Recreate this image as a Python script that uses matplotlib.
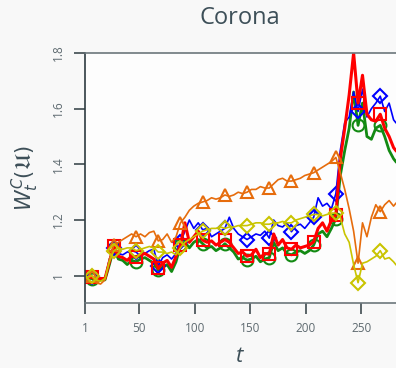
import matplotlib
matplotlib.use("Agg")
import matplotlib.pyplot as plt
import numpy as np

# time grid (markers every 20 steps from t=7)
t = [1] + list(range(3, 280, 4)) + [281]
marker_t = list(range(7, 281, 20))

orange = [1.00, 0.99, 1.00, 0.975, 0.97, 0.985, 1.06, 1.11, 1.12, 1.13, 1.14, 1.15,
          1.14, 1.15, 1.14, 1.155, 1.16, 1.125, 1.13, 1.15, 1.12, 1.14, 1.19, 1.21,
          1.235, 1.25, 1.26, 1.265, 1.27, 1.28, 1.275, 1.28, 1.29, 1.285, 1.29, 1.30,
          1.295, 1.30, 1.31, 1.31, 1.32, 1.315, 1.315, 1.33, 1.345, 1.35, 1.34, 1.34,
          1.345, 1.35, 1.36, 1.365, 1.37, 1.38, 1.39, 1.40, 1.41, 1.425, 1.37, 1.31,
          1.24, 1.16, 1.045, 1.19, 1.14, 1.21, 1.255, 1.23, 1.255, 1.27, 1.25, 1.26]

yellow = [1.00, 0.995, 1.00, 0.985, 0.98, 0.99, 1.05, 1.09, 1.10, 1.095, 1.10, 1.10,
          1.09, 1.095, 1.10, 1.105, 1.10, 1.085, 1.085, 1.08, 1.085, 1.075, 1.10, 1.12,
          1.13, 1.14, 1.15, 1.16, 1.165, 1.17, 1.17, 1.175, 1.17, 1.175, 1.175, 1.18,
          1.18, 1.18, 1.185, 1.19, 1.19, 1.185, 1.185, 1.19, 1.19, 1.195, 1.19, 1.19,
          1.20, 1.205, 1.21, 1.215, 1.22, 1.22, 1.215, 1.22, 1.225, 1.225, 1.21, 1.15,
          1.12, 1.04, 0.975, 1.045, 1.05, 1.06, 1.07, 1.09, 1.06, 1.065, 1.05, 1.04]

blue = [1.00, 0.995, 0.995, 0.985, 0.99, 0.99, 1.06, 1.10, 1.08, 1.075, 1.085, 1.09,
        1.085, 1.07, 1.08, 1.09, 1.095, 1.035, 1.065, 1.075, 1.06, 1.08, 1.12, 1.16,
        1.20, 1.17, 1.19, 1.165, 1.17, 1.14, 1.15, 1.16, 1.17, 1.21, 1.17, 1.15,
        1.14, 1.13, 1.14, 1.15, 1.145, 1.16, 1.135, 1.20, 1.18, 1.175, 1.19, 1.158,
        1.18, 1.185, 1.17, 1.19, 1.21, 1.28, 1.25, 1.26, 1.24, 1.295, 1.45, 1.55,
        1.57, 1.66, 1.59, 1.67, 1.57, 1.60, 1.62, 1.645, 1.59, 1.62, 1.56, 1.55]

green = [0.995, 0.99, 0.99, 0.98, 0.985, 0.985, 1.04, 1.10, 1.06, 1.055, 1.04, 1.055,
         1.05, 1.06, 1.065, 1.055, 1.045, 1.02, 1.03, 1.04, 1.015, 1.05, 1.11, 1.12,
         1.10, 1.12, 1.13, 1.115, 1.10, 1.105, 1.09, 1.10, 1.115, 1.10, 1.085, 1.06,
         1.065, 1.056, 1.06, 1.07, 1.05, 1.06, 1.065, 1.12, 1.09, 1.10, 1.08, 1.075,
         1.085, 1.09, 1.08, 1.09, 1.11, 1.15, 1.16, 1.14, 1.17, 1.205, 1.36, 1.45,
         1.53, 1.66, 1.54, 1.62, 1.50, 1.49, 1.53, 1.54, 1.50, 1.45, 1.42, 1.41]

red = [1.00, 0.99, 0.995, 0.985, 0.99, 0.99, 1.05, 1.107, 1.07, 1.065, 1.055, 1.07,
       1.068, 1.075, 1.08, 1.07, 1.06, 1.026, 1.045, 1.055, 1.03, 1.07, 1.11, 1.19,
       1.12, 1.14, 1.16, 1.128, 1.12, 1.125, 1.11, 1.12, 1.13, 1.12, 1.10, 1.08,
       1.085, 1.07, 1.075, 1.095, 1.065, 1.08, 1.077, 1.15, 1.11, 1.13, 1.10, 1.095,
       1.11, 1.10, 1.105, 1.11, 1.122, 1.17, 1.19, 1.16, 1.20, 1.218, 1.42, 1.53,
       1.65, 1.80, 1.62, 1.72, 1.58, 1.56, 1.555, 1.58, 1.53, 1.50, 1.46, 1.45]

xticks = [1, 50, 100, 150, 200, 250]
yticks = [1.0, 1.2, 1.4, 1.6, 1.8]
ytick_labels = ["1", "1.2", "1.4", "1.6", "1.8"]

W, H = 396, 368
fig = plt.figure(figsize=(W / 100, H / 100), dpi=100, facecolor="#f8f8f8")
left, right, top, bottom = 84.7, 400, 53, 303
ax = fig.add_axes([left / W, 1 - bottom / H, (right - left) / W, (bottom - top) / H])
ax.set_facecolor("#fdfdfd")

mk_idx = [t.index(m) for m in marker_t]

series = [
    (green, "#138a13", "o", 2.0, 8.5),
    (blue, "#0000ff", "D", 1.2, 7),
    (red, "#ff0000", "s", 2.2, 9),
    (orange, "#e66c0c", "^", 1.2, 8.5),
    (yellow, "#c9c400", "D", 1.2, 7),
]
for vals, col, mk, lw, ms in series:
    ax.plot(t, vals, color=col, lw=lw, marker=mk, markevery=mk_idx,
            markersize=ms, markerfacecolor="none", markeredgecolor=col,
            markeredgewidth=1.5, solid_joinstyle="round")

ax.set_xlim(0.73, 1 + (right - 85) / 1.11)
ax.set_ylim(0.902, 1.8)

for s in ["top", "bottom", "left", "right"]:
    ax.spines[s].set_color("#6c777c")
    ax.spines[s].set_linewidth(1.2)
ax.spines["left"].set_color("#2e3b41")

ax.set_xticks(xticks)
ax.set_xticklabels([str(x) for x in xticks])
ax.set_yticks(yticks)
ax.set_yticklabels(ytick_labels, rotation=90, va="center")
ax.tick_params(axis="both", length=8, width=1.1, color="#2e3b41",
               labelsize=8.5, labelcolor="#5e6a70", pad=6)
for lab in ax.get_xticklabels() + ax.get_yticklabels():
    lab.set_family("Open Sans")

fig.text(240 / W, 1 - 18 / H, "Corona", ha="center", va="center",
         fontsize=17, color="#3d4f58", family="Open Sans")
fig.text(240 / W, 1 - 357 / H, "t", ha="center", va="center",
         fontsize=16, style="italic", color="#3d4f58", family="Open Sans")
fig.text(25 / W, 1 - 178 / H, r"$W_t^C(\mathfrak{U})$", ha="center", va="center",
         rotation=90, fontsize=15, color="#3d4f58")

fig.savefig("out.png", dpi=100, facecolor=fig.get_facecolor())
